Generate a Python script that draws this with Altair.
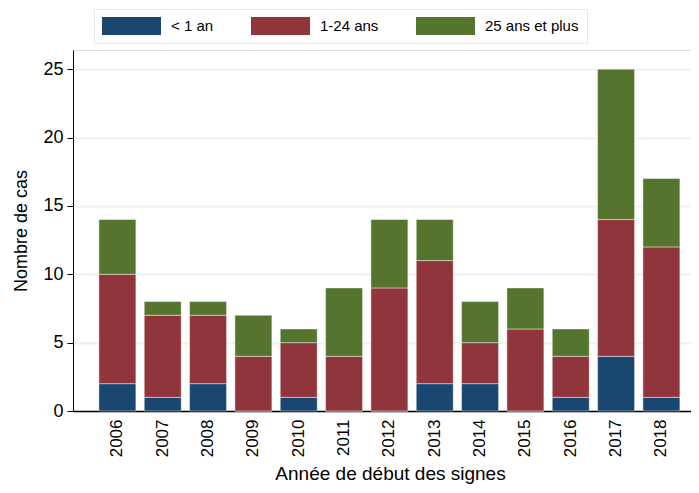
import altair as alt
import pandas as pd

years = [2006, 2007, 2008, 2009, 2010, 2011, 2012, 2013, 2014, 2015, 2016, 2017, 2018]
lt1 = [2, 1, 2, 0, 1, 0, 0, 2, 2, 0, 1, 4, 1]
a1_24 = [8, 6, 5, 4, 4, 4, 9, 9, 3, 6, 3, 10, 11]
a25 = [4, 1, 1, 3, 1, 5, 5, 3, 3, 3, 2, 11, 5]
groups = ["< 1 an", "1-24 ans", "25 ans et plus"]
colors = ["#1a476f", "#90353b", "#55752f"]
y_ticks = [0, 5, 10, 15, 20, 25]

rows = []
for i, yr in enumerate(years):
    for k, (g, vals) in enumerate(zip(groups, [lt1, a1_24, a25])):
        rows.append({"annee": str(yr), "groupe": g, "ordre": k, "cas": vals[i]})
df = pd.DataFrame(rows)

font = "Liberation Sans"

chart = alt.Chart(df).mark_bar(
    stroke="#ffffff", strokeWidth=1, strokeOpacity=0.45
).encode(
    x=alt.X("annee:N", title="Année de début des signes",
            scale=alt.Scale(paddingInner=0.184, paddingOuter=0.408, align=0.7),
            axis=alt.Axis(labelAngle=-90, labelFontSize=17, labelPadding=8,
                          ticks=False, domainColor="#000000", domainWidth=1.5,
                          labelColor="#000000", labelFont=font,
                          titleFont=font, titleFontSize=19, titleFontWeight="normal",
                          titleColor="#000000", titleBaseline="alphabetic",
                          titlePadding=23, titleX=317, titleAlign="center", grid=False)),
    y=alt.Y("cas:Q", stack="zero", title="Nombre de cas",
            scale=alt.Scale(domain=[0, 26.4], nice=False),
            axis=alt.Axis(values=y_ticks, labelFontSize=18, labelFont=font,
                          labelColor="#000000", tickColor="#000000", tickSize=6,
                          labelPadding=4, domainColor="#000000", domainWidth=1,
                          gridColor="#eaf2f3", gridWidth=2,
                          titleFont=font, titleFontSize=18, titleFontWeight="normal",
                          titleColor="#000000", titlePadding=12)),
    color=alt.Color("groupe:N",
                    scale=alt.Scale(domain=groups, range=colors),
                    legend=alt.Legend(title=None, orient="none", direction="horizontal",
                                      legendX=21, legendY=-41, columns=3,
                                      symbolType="M-3.278,-1H3.278V1H-3.278Z",
                                      symbolSize=324, symbolStrokeWidth=0,
                                      symbolOpacity=1, symbolOffset=20.5,
                                      labelFont=font, labelFontSize=15,
                                      labelColor="#000000", labelOffset=30.5,
                                      columnPadding=36, padding=8,
                                      strokeColor="#e3e9ec", fillColor="#ffffff")),
    order=alt.Order("ordre:Q", sort="ascending"),
).properties(
    width=618, height=361,
    autosize=alt.AutoSizeParams(type="none"),
    padding={"left": 65, "top": 42, "right": 0, "bottom": 74},
).configure_view(stroke=None).configure(background="#ffffff")

chart.save("out.html", embed_options={"renderer": "svg", "actions": False})
